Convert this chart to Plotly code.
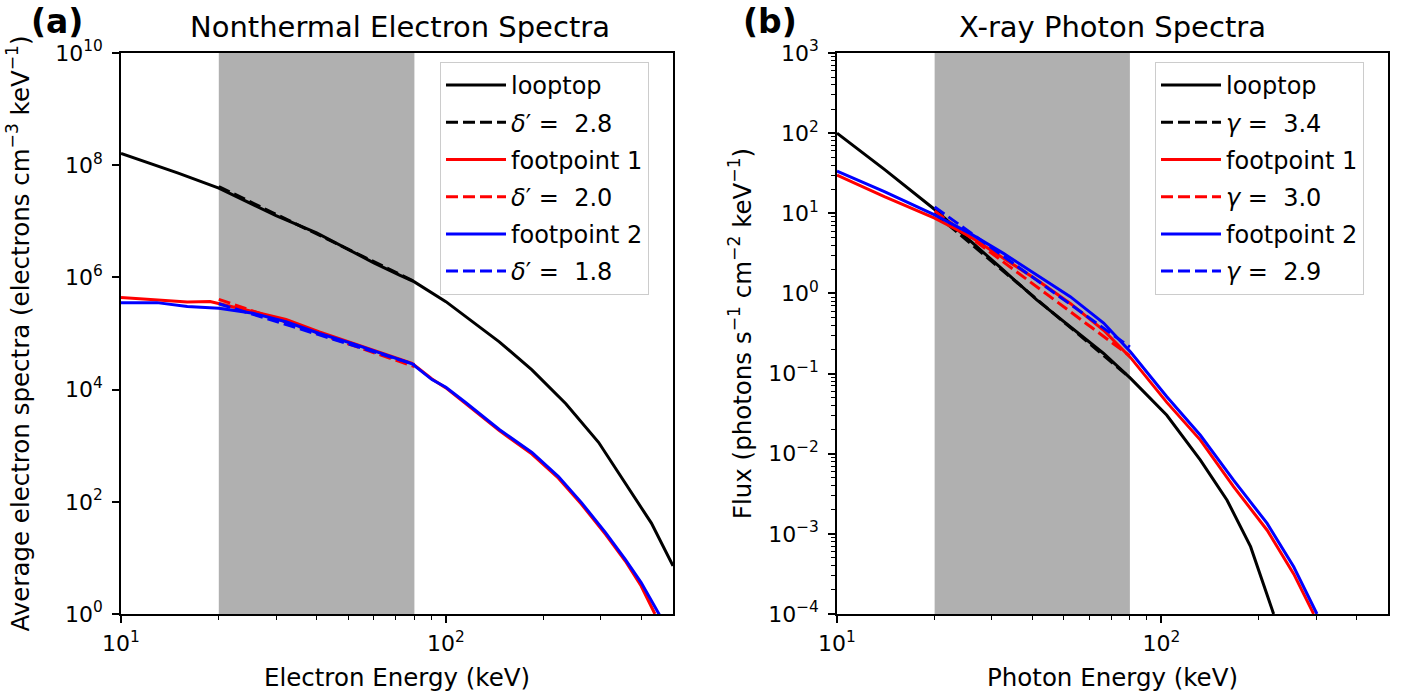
import plotly.graph_objects as go

# ---------------- data ----------------
# Panel (a): nonthermal electron spectra
e_loop_a = [10, 15, 20, 30, 40, 50, 60, 72, 80, 100, 115, 146, 184, 234, 295, 372, 429, 500]
y_loop_a = [1.62e8, 7.2e7, 3.9e7, 1.26e7, 6.2e6, 3.1e6, 1.82e6, 1.10e6, 8.3e5, 3.7e5,
            2.0e5, 7.1e4, 2.24e4, 5.6e3, 1.15e3, 148, 41.7, 7.2]

e_fp1_a = [10, 12.6, 16, 18.8, 20.5, 25.5, 32.2, 40.8, 51.6, 65.3, 78.7, 90.6, 100, 115,
           146, 184, 222, 261, 310, 357, 399, 440]
y_fp1_a = [4.37e5, 3.98e5, 3.63e5, 3.72e5, 3.31e5, 2.45e5, 1.78e5, 1.07e5, 6.76e4, 4.27e4,
           2.95e4, 1.55e4, 1.07e4, 5.62e3, 1.86e3, 708, 263, 91.2, 26.3, 8.71, 3.16, 1.0]

e_fp2_a = [10, 12.9, 16, 20, 25.5, 32.2, 40.8, 51.6, 65.3, 78.7, 90.6, 100, 115,
           146, 184, 222, 261, 310, 357, 399, 455]
y_fp2_a = [3.55e5, 3.55e5, 3.02e5, 2.82e5, 2.29e5, 1.62e5, 1.0e5, 6.61e4, 4.17e4, 2.88e4,
           1.51e4, 1.10e4, 5.89e3, 1.95e3, 759, 282, 97.7, 28.2, 9.33, 3.63, 0.95]

fit_e = [20, 80]
fit_loop_a = [4.17e7, 8.51e5]
fit_fp1_a = [4.07e5, 2.57e4]
fit_fp2_a = [3.39e5, 2.82e4]
labels_a = ["looptop", "<i>δ</i>′ =  2.8", "footpoint 1", "<i>δ</i>′ =  2.0",
            "footpoint 2", "<i>δ</i>′ =  1.8"]

# Panel (b): X-ray photon spectra
e_loop_b = [10, 14, 20.1, 24, 32.6, 41.3, 52.4, 66.4, 80.4, 104, 132, 159.5, 188.5, 222]
y_loop_b = [100, 35.3, 11.0, 5.89, 1.95, 0.832, 0.380, 0.178, 0.0871, 0.0302,
            8.32e-3, 2.63e-3, 6.92e-4, 1.0e-4]

e_fp1_b = [10, 14, 20, 25.7, 32.6, 41.3, 52.4, 66.4, 80.4, 104, 132, 167, 212, 256, 295]
y_fp1_b = [30.0, 16.1, 8.71, 5.13, 2.75, 1.48, 0.750, 0.347, 0.158, 0.0437, 0.0148,
           3.89e-3, 1.11e-3, 3.16e-4, 1.0e-4]

e_fp2_b = [10, 14, 20, 25.7, 32.6, 41.3, 52.4, 66.4, 80.4, 104, 132, 167, 212, 256, 302]
y_fp2_b = [33.6, 18.6, 9.55, 5.62, 3.16, 1.70, 0.912, 0.427, 0.186, 0.0513, 0.0170,
           4.68e-3, 1.35e-3, 3.89e-4, 1.0e-4]

fit_loop_b = [10.0, 0.0891]
fit_fp1_b = [10.7, 0.166]
fit_fp2_b = [12.0, 0.214]
labels_b = ["looptop", "<i>γ</i> =  3.4", "footpoint 1", "<i>γ</i> =  3.0",
            "footpoint 2", "<i>γ</i> =  2.9"]

band = [20, 80]

# ---------------- figure ----------------
W, H = 1407, 698
FONT = "DejaVu Sans"
fig = go.Figure()

def px_x(p):
    return p / W

def px_y(p):
    return (H - p) / H

dash = "12px,5px"

def add_panel(xa, ya, legend, series, labels):
    for i, (ex, yy, col, dsh) in enumerate(series):
        fig.add_trace(go.Scatter(
            x=ex, y=yy, mode="lines", name=labels[i],
            line=dict(color=col, width=3, dash=dsh),
            xaxis=xa, yaxis=ya, legend=legend,
            legendgroup=f"{legend}_{i}", showlegend=True,
        ))

add_panel("x", "y", "legend", [
    (e_loop_a, y_loop_a, "black", "solid"),
    (fit_e, fit_loop_a, "black", dash),
    (e_fp1_a, y_fp1_a, "red", "solid"),
    (fit_e, fit_fp1_a, "red", dash),
    (e_fp2_a, y_fp2_a, "blue", "solid"),
    (fit_e, fit_fp2_a, "blue", dash),
], labels_a)

add_panel("x2", "y2", "legend2", [
    (e_loop_b, y_loop_b, "black", "solid"),
    (fit_e, fit_loop_b, "black", dash),
    (e_fp1_b, y_fp1_b, "red", "solid"),
    (fit_e, fit_fp1_b, "red", dash),
    (e_fp2_b, y_fp2_b, "blue", "solid"),
    (fit_e, fit_fp2_b, "blue", dash),
], labels_b)

dom_y = [px_y(614), px_y(53)]
dom_x1 = [px_x(121), px_x(673)]
dom_x2 = [px_x(837), px_x(1388)]

x_minor = [v * 10 ** d for d in (1, 2) for v in range(2, 10) if v * 10 ** d < 500]
y2_minor = [v * 10.0 ** d for d in range(-4, 3) for v in range(2, 10)]

axis_common = dict(
    type="log", showline=True, mirror=True, linecolor="black", linewidth=1.5,
    ticks="outside", ticklen=7, tickwidth=1.5, tickcolor="black",
    showgrid=False, zeroline=False, automargin=False,
    tickfont=dict(family=FONT, size=22, color="black"),
    title_font=dict(family=FONT, size=24.5, color="black"),
)

def sup_labels(exps):
    return [f"10<sup>{e}</sup>" if e >= 0 else f"10<sup>−{-e}</sup>" for e in exps]

minor_x = dict(tickmode="array", tickvals=x_minor, ticks="outside",
               ticklen=4, tickwidth=1, tickcolor="black", showgrid=False)

xticks = [10, 100]
legend_common = dict(xanchor="left", yanchor="top",
                     bgcolor="rgba(255,255,255,0.8)", bordercolor="#cccccc", borderwidth=1,
                     font=dict(family=FONT, size=24, color="black"),
                     tracegroupgap=3, traceorder="grouped", itemwidth=60)

fig.update_layout(
    width=W, height=H,
    margin=dict(l=0, r=0, t=0, b=0),
    paper_bgcolor="white", plot_bgcolor="white",
    font=dict(family=FONT, color="black"),
    xaxis=dict(axis_common, domain=dom_x1, range=[1, 2.699],
               tickmode="array", tickvals=xticks, ticktext=sup_labels([1, 2]),
               minor=minor_x, ticklabelstandoff=2,
               title=dict(text="Electron Energy (keV)", standoff=14), anchor="y"),
    yaxis=dict(axis_common, domain=dom_y, range=[0, 10],
               tickmode="array", tickvals=[10.0 ** e for e in range(0, 11, 2)],
               ticktext=sup_labels(range(0, 11, 2)), ticklabelstandoff=5,
               title=dict(text="Average electron spectra (electrons cm<sup>−3</sup> keV<sup>−1</sup>)",
                          standoff=19), anchor="x"),
    xaxis2=dict(axis_common, domain=dom_x2, range=[1, 2.699],
                tickmode="array", tickvals=xticks, ticktext=sup_labels([1, 2]),
                minor=minor_x, ticklabelstandoff=2,
                title=dict(text="Photon Energy (keV)", standoff=14), anchor="y2"),
    yaxis2=dict(axis_common, domain=dom_y, range=[-4, 3],
                tickmode="array", tickvals=[10.0 ** e for e in range(-4, 4)],
                ticktext=sup_labels(range(-4, 4)), ticklabelstandoff=5,
                minor=dict(tickmode="array", tickvals=y2_minor, ticks="outside",
                           ticklen=4, tickwidth=1, tickcolor="black", showgrid=False),
                title=dict(text="Flux (photons s<sup>−1</sup> cm<sup>−2</sup> keV<sup>−1</sup>)",
                           standoff=10), anchor="x2"),
    legend=dict(legend_common, x=px_x(440), y=px_y(62)),
    legend2=dict(legend_common, x=px_x(1155), y=px_y(62)),
)

# shaded energy band (20-80 keV)
for xr, yr in (("x", "y domain"), ("x2", "y2 domain")):
    fig.add_shape(type="rect", xref=xr, yref=yr, x0=band[0], x1=band[1], y0=0, y1=1,
                  fillcolor="#b0b0b0", line=dict(width=0), layer="below")

# titles and panel labels
ann = [
    ("Nonthermal Electron Spectra", 400, 27, 29),
    ("X-ray Photon Spectra", 1112, 27, 29),
    ("<b>(a)</b>", 57, 21, 33),
    ("<b>(b)</b>", 770, 21, 33),
]
for text, xc, yc, size in ann:
    fig.add_annotation(text=text, xref="paper", yref="paper", x=px_x(xc), y=px_y(yc),
                       xanchor="center", yanchor="middle", showarrow=False,
                       font=dict(family=FONT, size=size, color="black"))

fig.write_html("out.html")
